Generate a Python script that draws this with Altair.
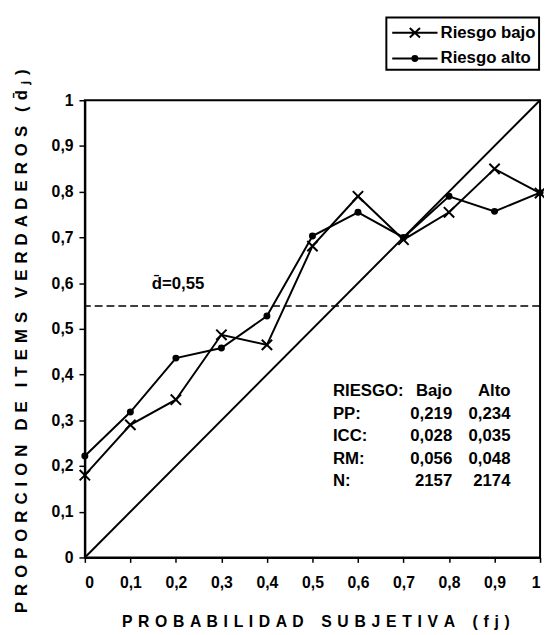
import unicodedata
import altair as alt
import pandas as pd

# ---------------- data ----------------
prob = [0.0, 0.1, 0.2, 0.3, 0.4, 0.5, 0.6, 0.7, 0.8, 0.9, 1.0]
riesgo_bajo = [0.180, 0.290, 0.345, 0.487, 0.465, 0.681, 0.790, 0.695, 0.755, 0.850, 0.797]
riesgo_alto = [0.222, 0.318, 0.436, 0.458, 0.528, 0.703, 0.755, 0.700, 0.790, 0.757, 0.798]
series_names = ["Riesgo bajo", "Riesgo alto"]

diag_x = [0.0, 1.0]
diag_y = [0.0, 1.0]
d_mean = 0.55
d_label = "d\u0304=0,55"

stat_labels = ["RIESGO:", "PP:", "ICC:", "RM:", "N:"]
stat_bajo = ["Bajo", "0,219", "0,028", "0,056", "2157"]
stat_alto = ["Alto", "0,234", "0,035", "0,048", "2174"]

tick_values = [0.0, 0.1, 0.2, 0.3, 0.4, 0.5, 0.6, 0.7, 0.8, 0.9, 1.0]
x_title = "PROBABILIDAD SUBJETIVA (fj)"
y_title = "PROPORCION DE ITEMS VERDADEROS (d\u0304\u2c7c)"

FONT = "Liberation Sans"


def spaced(text, gap=" \u200a", word_gap="\u00a0\u00a0\u00a0"):
    words = []
    for w in text.split(" "):
        glyphs = []
        for c in w:
            if glyphs and unicodedata.combining(c):
                glyphs[-1] += c
            else:
                glyphs.append(c)
        words.append(gap.join(glyphs))
    return word_gap.join(words)


# ---------------- frames ----------------
lines_df = pd.DataFrame({
    "prob": prob * 2,
    "value": riesgo_bajo + riesgo_alto,
    "series": [series_names[0]] * len(prob) + [series_names[1]] * len(prob),
})
diag_df = pd.DataFrame({"prob": diag_x, "value": diag_y})
rule_df = pd.DataFrame({"value": [d_mean]})
annot_df = pd.DataFrame({"text": [d_label]})
table_df = pd.DataFrame({
    "row": list(range(len(stat_labels))),
    "label": stat_labels,
    "bajo": stat_bajo,
    "alto": stat_alto,
})
legend_df = pd.DataFrame({"series": series_names})

# ---------------- encodings ----------------
label_expr = "replace(format(datum.value, '.1~f'), '.', ',')"
x_axis = alt.Axis(
    values=tick_values, labelExpr=label_expr, tickSize=5, labelPadding=13,
    title=spaced(x_title, word_gap="\u00a0\u00a0\u00a0\u00a0"), titleX=234, titleY=65,
    titleAlign="center", titleBaseline="middle",
)
y_axis = alt.Axis(
    values=tick_values, labelExpr=label_expr, tickSize=6, labelPadding=6,
    title=spaced(y_title), titleX=-64, titleY=244, titleAngle=270,
    titleAlign="center", titleBaseline="middle", titleFontSize=17,
)
X = alt.X("prob:Q", scale=alt.Scale(domain=[0, 1], nice=False, zero=False), axis=x_axis)
Y = alt.Y("value:Q", scale=alt.Scale(domain=[0, 1], nice=False, zero=False), axis=y_axis)

diag = alt.Chart(diag_df).mark_line(color="black", strokeWidth=2).encode(x=X, y=Y)

rule = alt.Chart(rule_df).mark_rule(
    color="black", strokeWidth=1.6, strokeDash=[8, 4]
).encode(y=Y)

lines = alt.Chart(lines_df).mark_line(color="black", strokeWidth=2).encode(
    x=X, y=Y, detail="series:N"
)

pts_bajo = alt.Chart(lines_df).transform_filter(
    alt.datum.series == series_names[0]
).mark_point(
    shape="M-1,-1L1,1M-1,1L1,-1", size=110, filled=False,
    stroke="black", strokeWidth=2, opacity=1,
).encode(x=X, y=Y)

pts_alto = alt.Chart(lines_df).transform_filter(
    alt.datum.series == series_names[1]
).mark_circle(size=50, color="black", opacity=1).encode(x=X, y=Y)

annot = alt.Chart(annot_df).transform_calculate(
    prob="0.147", value="0.599"
).mark_text(
    align="left", baseline="middle", font=FONT, fontSize=17, fontWeight="bold", color="black"
).encode(x=X, y=Y, text="text:N")

row_y = "0.363 - datum.row * 0.049"
tbl_labels = alt.Chart(table_df).transform_calculate(
    prob="0.545", value=row_y
).mark_text(
    align="left", baseline="middle", font=FONT, fontSize=17, fontWeight="bold", color="black"
).encode(x=X, y=Y, text="label:N")

tbl_bajo = alt.Chart(table_df).transform_calculate(
    prob="0.807", value=row_y
).mark_text(
    align="right", baseline="middle", font=FONT, fontSize=17, fontWeight="bold", color="black"
).encode(x=X, y=Y, text="bajo:N")

tbl_alto = alt.Chart(table_df).transform_calculate(
    prob="0.935", value=row_y
).mark_text(
    align="right", baseline="middle", font=FONT, fontSize=17, fontWeight="bold", color="black"
).encode(x=X, y=Y, text="alto:N")

# legend symbols: a line segment with the series marker in the middle
leg_bajo = "M-0.83,0L3.17,0M0.72,-0.42L1.62,0.42M0.72,0.42L1.62,-0.42"
leg_alto = ("M-0.83,0L3.17,0"
            "M1.39,0A0.22,0.22 0 1,1 0.95,0A0.22,0.22 0 1,1 1.39,0Z"
            "M1.25,0A0.08,0.08 0 1,1 1.09,0A0.08,0.08 0 1,1 1.25,0Z")
legend_layer = alt.Chart(legend_df).transform_filter("false").mark_point(
    filled=False, stroke="black", strokeWidth=2, opacity=1
).encode(
    shape=alt.Shape(
        "series:N",
        scale=alt.Scale(domain=series_names, range=[leg_bajo, leg_alto]),
        legend=alt.Legend(
            title=None, orient="none", legendX=306, legendY=-84,
            strokeColor="black", fillColor="white", padding=3,
            symbolSize=529, labelOffset=27, rowPadding=4,
            labelFont=FONT, labelFontSize=17, labelFontWeight="bold",
            labelColor="black", symbolStrokeWidth=2,
            symbolStrokeColor="black", symbolOpacity=1,
        ),
    )
)

chart = alt.layer(
    diag, rule, lines, pts_bajo, pts_alto, annot,
    tbl_labels, tbl_bajo, tbl_alto, legend_layer,
).properties(
    width=462, height=464,
    autosize=alt.AutoSizeParams(type="none"),
    padding={"left": 78, "top": 89, "right": 4, "bottom": 70},
    background="white",
).configure_view(
    stroke="black", strokeWidth=2
).configure_axis(
    domainColor="black", domainWidth=2, tickColor="black", tickWidth=1.5,
    labelFont=FONT, labelFontSize=16, labelFontWeight="bold", labelColor="black",
    titleFont=FONT, titleFontSize=16, titleFontWeight="bold", titleColor="black",
    grid=False,
).configure_legend(
    strokeWidth=2
)

chart.save("out.html", embed_options={"renderer": "svg", "actions": False})
